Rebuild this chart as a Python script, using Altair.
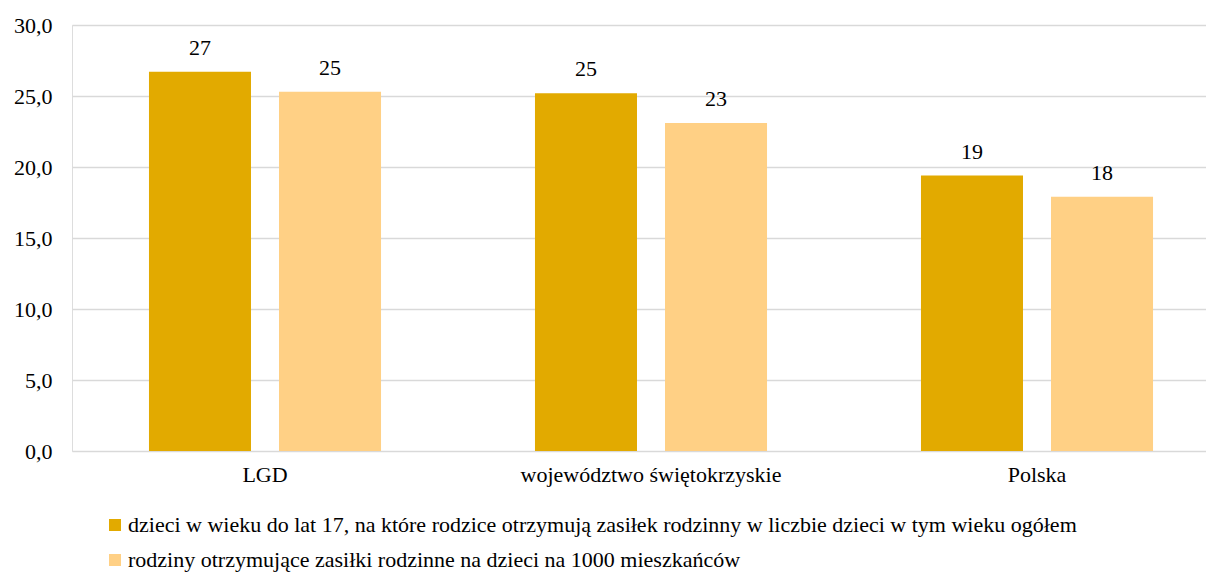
import altair as alt
import pandas as pd

categories = ["LGD", "województwo świętokrzyskie", "Polska"]
series = [
    "dzieci w wieku do lat 17, na które rodzice otrzymują zasiłek rodzinny w liczbie dzieci w tym wieku ogółem",
    "rodziny otrzymujące zasiłki rodzinne na dzieci na 1000 mieszkańców",
]
values_children = [26.7, 25.2, 19.4]
values_families = [25.3, 23.1, 17.9]
colors = ["#E2AA00", "#FFD085"]
y_ticks = [0, 5, 10, 15, 20, 25, 30]

rows = []
for i, c in enumerate(categories):
    rows.append({"cat": c, "series": series[0], "value": values_children[i]})
    rows.append({"cat": c, "series": series[1], "value": values_families[i]})
df = pd.DataFrame(rows)

FONT = "'Liberation Serif', 'Times New Roman', 'Liberation Sans', serif"
FS = 22

x = alt.X("cat:N", sort=categories, title=None,
          scale=alt.Scale(paddingInner=0, paddingOuter=0, range=[0, 1158]),
          axis=alt.Axis(labelAngle=0, ticks=False, domain=False, grid=False, labelPadding=13,
                        labelFontSize=FS, labelColor="#000000", labelFont=FONT, labelLimit=1000))
xo = alt.XOffset("series:N", sort=series,
                 scale=alt.Scale(paddingInner=0.2154, paddingOuter=0.592))
y = alt.Y("value:Q", title=None,
          scale=alt.Scale(domain=[0, 30], nice=False),
          axis=alt.Axis(values=y_ticks, ticks=False, domain=False, labelPadding=20,
                        labelFontSize=FS, labelColor="#000000", labelFont=FONT,
                        gridColor="#D9D9D9", gridWidth=1.3,
                        labelExpr="replace(format(datum.value, '.1f'), '.', ',')"))

bars = alt.Chart(df).mark_bar().encode(
    x=x, xOffset=xo, y=y,
    color=alt.Color("series:N", sort=series,
                    scale=alt.Scale(domain=series, range=colors),
                    legend=alt.Legend(title=None, orient="none", legendX=32, legendY=489,
                                      direction="vertical", symbolType="square",
                                      symbolSize=144, symbolStrokeWidth=0,
                                      labelFontSize=FS, labelFont=FONT, labelColor="#000000",
                                      labelLimit=2000, rowPadding=13, labelOffset=2)),
)

labels = alt.Chart(df).mark_text(dy=-17, baseline="alphabetic", fontSize=FS, font=FONT,
                                 color="#000000").encode(
    x=x, xOffset=xo, y=y,
    text=alt.Text("value:Q", format=".0f"),
)

chart = alt.layer(bars, labels).properties(
    width=1134, height=426,
    autosize=alt.AutoSizeParams(type="none"),
    padding={"left": 64, "top": 17, "right": 0, "bottom": 124},
).configure_view(stroke=None).configure(font=FONT)

chart.save("out.html", embed_options={"renderer": "svg", "actions": False})
